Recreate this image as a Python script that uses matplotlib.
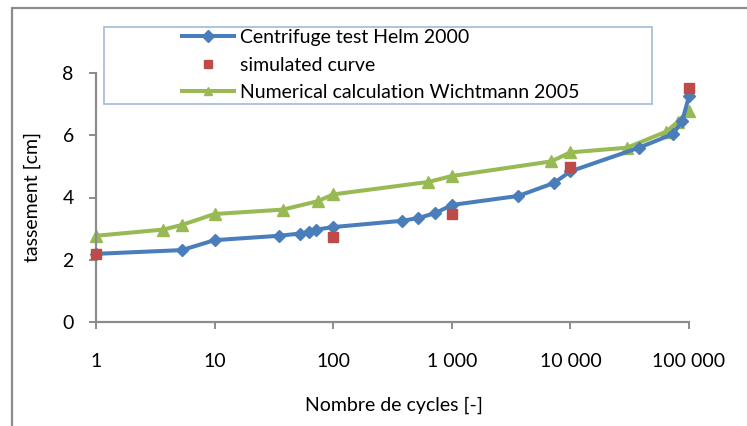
import numpy as np
import matplotlib.pyplot as plt
from matplotlib.patches import Rectangle
from matplotlib.ticker import FixedLocator, NullLocator

plt.rcParams['font.family'] = ['Lato', 'DejaVu Sans']

# Centrifuge test (Helm 2000)
helm_cycles = [1, 5.3, 10, 35, 52, 63, 72, 100, 377, 523, 728, 1000,
               3640, 7300, 10000, 37900, 73300, 87500, 100000]
helm_settlement = [2.19, 2.31, 2.63, 2.77, 2.84, 2.90, 2.97, 3.05, 3.25, 3.34,
                   3.50, 3.76, 4.05, 4.47, 4.84, 5.60, 6.04, 6.45, 7.25]

# simulated curve
sim_cycles = [1, 100, 1000, 10000, 100000]
sim_settlement = [2.19, 2.73, 3.48, 4.98, 7.51]

# Numerical calculation (Wichtmann 2005)
wicht_cycles = [1, 3.7, 5.3, 10, 37.5, 74, 100, 636, 1000, 6900, 10000,
                30000, 64500, 80000, 100000]
wicht_settlement = [2.77, 2.97, 3.12, 3.47, 3.61, 3.88, 4.10, 4.50, 4.69,
                    5.16, 5.45, 5.60, 6.12, 6.42, 6.78]

x_ticks = [1, 10, 100, 1000, 10000, 100000]
x_ticklabels = ['1', '10', '100', '1 000', '10 000', '100 000']
y_ticks = [0, 2, 4, 6, 8]

W, H = 747, 426
fig = plt.figure(figsize=(W / 100, H / 100), dpi=100)

def fx(px):
    return px / W

def fy(py):
    return 1 - py / H

# chart area border (left and top edges visible)
fig.patches.append(Rectangle((fx(12), fy(H + 20)), fx(W + 20), fy(8) - fy(H + 20),
                             transform=fig.transFigure, fill=False,
                             edgecolor='#8c8c8c', linewidth=1.6, zorder=0))

ax = fig.add_axes([fx(96), fy(322), fx(689) - fx(96), fy(73) - fy(322)])

blue = '#4a7ebb'
red = '#be4b48'
green = '#98b954'
axis_grey = '#8c8c8c'

ax.plot(helm_cycles, helm_settlement, '-D', color=blue, lw=2.9, ms=6,
        label='Centrifuge test Helm 2000', clip_on=False, zorder=3)
ax.plot(sim_cycles, sim_settlement, 's', color=red, ms=7.5, lw=0,
        label='simulated curve', clip_on=False, zorder=4)
ax.plot(wicht_cycles, wicht_settlement, '-^', color=green, lw=2.9, ms=8,
        label='Numerical calculation Wichtmann 2005', clip_on=False, zorder=2)

ax.set_xscale('log')
ax.set_xlim(1, 100000)
ax.set_ylim(0, 8)
ax.xaxis.set_major_locator(FixedLocator(x_ticks))
ax.xaxis.set_minor_locator(NullLocator())
ax.set_xticklabels(x_ticklabels)
ax.set_yticks(y_ticks)

for side in ['top', 'right']:
    ax.spines[side].set_visible(False)
for side in ['left', 'bottom']:
    ax.spines[side].set_color(axis_grey)
    ax.spines[side].set_linewidth(1.6)

ax.tick_params(axis='x', direction='out', length=5, width=1.4, color=axis_grey,
               labelsize=14, pad=17)
ax.tick_params(axis='y', direction='out', length=5, width=1.4, color=axis_grey,
               labelsize=14, pad=11)

fig.text(fx(394), fy(405), 'Nombre de cycles [-]', fontsize=14,
         ha='center', va='center')
fig.text(fx(32), fy(197), 'tassement [cm]', fontsize=14, rotation=90,
         ha='center', va='center')

# legend frame and entries
fig.patches.append(Rectangle((fx(104), fy(104)), fx(652) - fx(104), fy(27) - fy(104),
                             transform=fig.transFigure, facecolor='white',
                             edgecolor='#a7bfdd', linewidth=1.3, zorder=5))
leg = fig.legend(loc='upper left', bbox_to_anchor=(fx(176), fy(23)),
                 frameon=False, fontsize=14, handlelength=2.7,
                 handletextpad=0.3, labelspacing=0.55, borderpad=0.3,
                 borderaxespad=0)
leg.set_zorder(6)
for h in leg.legend_handles:
    h.set_linewidth(2.9)
    h.set_markersize(6)

fig.savefig('out.png', dpi=100)
